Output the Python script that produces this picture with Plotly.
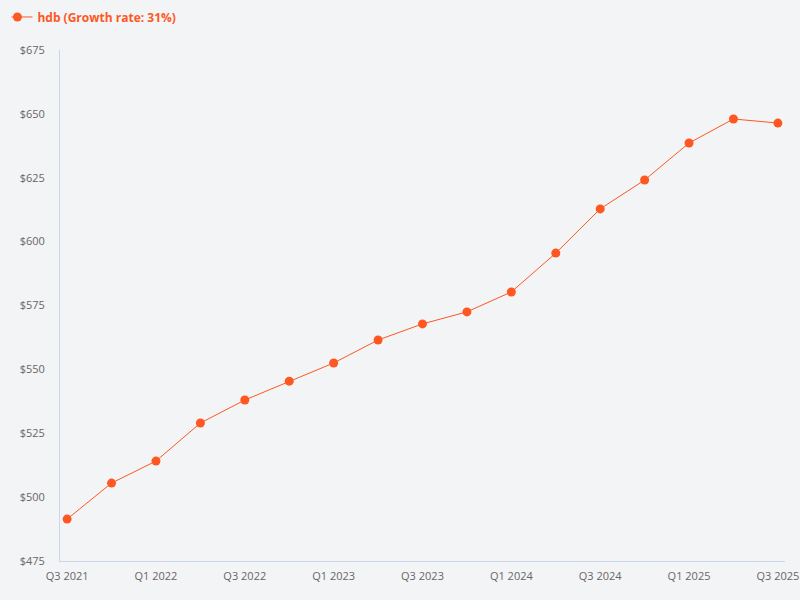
import plotly.graph_objects as go

quarters = ["Q3 2021", "Q4 2021", "Q1 2022", "Q2 2022", "Q3 2022", "Q4 2022",
            "Q1 2023", "Q2 2023", "Q3 2023", "Q4 2023", "Q1 2024", "Q2 2024",
            "Q3 2024", "Q4 2024", "Q1 2025", "Q2 2025", "Q3 2025"]
prices = [491.4, 505.5, 514.1, 529.0, 538.0, 545.4, 552.5, 561.5, 567.8,
          572.5, 580.3, 595.5, 612.8, 624.1, 638.6, 648.0, 646.4]
y_ticks = [475, 500, 525, 550, 575, 600, 625, 650, 675]
growth_label = "31%"

color = "#ff5722"
idx = list(range(len(quarters)))

fig = go.Figure()
fig.add_trace(go.Scatter(
    x=idx, y=prices, mode="lines+markers",
    name=f"hdb (Growth rate: {growth_label})",
    line=dict(color=color, width=1),
    marker=dict(color=color, size=9),
    hovertext=quarters,
))

fig.update_layout(
    width=800, height=600,
    paper_bgcolor="#f3f4f6", plot_bgcolor="#f3f4f6",
    # fixed margins: keep the legend from pushing the plot area around
    margin=dict(l=60, r=15, t=50, b=39, autoexpand=False),
    font=dict(family="Open Sans", size=11, color="#666666"),
    showlegend=True,
    legend=dict(
        x=-0.067, y=1.093, xanchor="left", yanchor="top",
        font=dict(family="Open Sans", size=12, color=color, weight="bold"),
        itemwidth=30, indentation=-14, bgcolor="rgba(0,0,0,0)",
    ),
)
fig.update_xaxes(
    range=[-0.16, len(quarters) - 1 + 0.16],
    tickvals=idx[::2], ticktext=quarters[::2],
    showgrid=False, zeroline=False, automargin=False,
    showline=True, linecolor="#ccd6eb", linewidth=1,
    ticks="", ticklabelstandoff=5,
)
fig.update_yaxes(
    range=[475, 675], tickvals=y_ticks,
    ticktext=[f"${v}" for v in y_ticks],
    showgrid=False, zeroline=False, automargin=False,
    showline=True, linecolor="#ccd6eb", linewidth=1,
    ticks="", ticklabelstandoff=12,
)

# drop the browser's default body margin so the 800x600 figure fills the window
fig.write_html("out.html", config={"displayModeBar": False},
               post_script="document.body.style.margin='0';")
